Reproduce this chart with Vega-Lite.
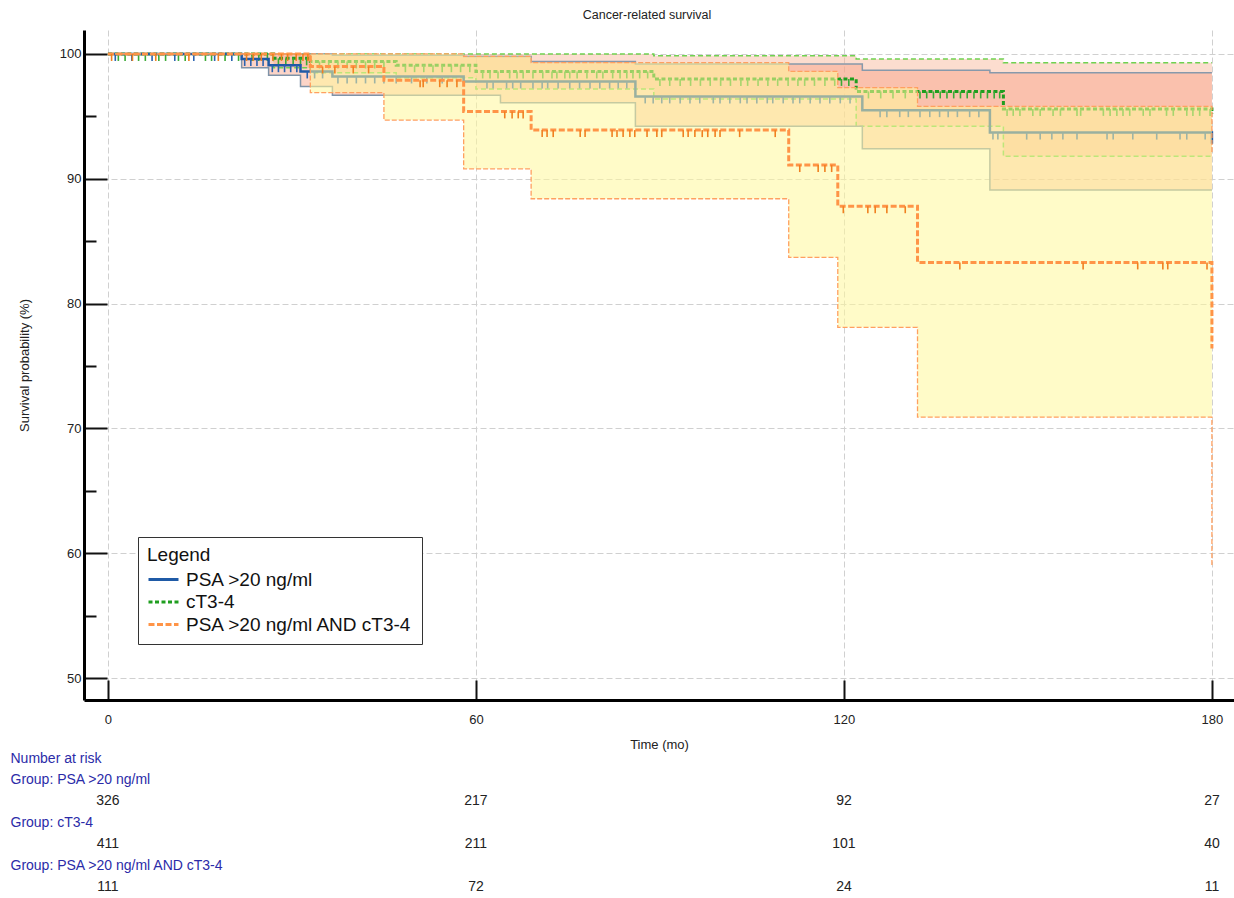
{
"$schema": "https://vega.github.io/schema/vega-lite/v6.json",
"background": "white",
"padding": {"left": 10, "top": 8, "right": 0, "bottom": 0},
"spacing": 0,
"config": {"view": {"stroke": null}, "font": "Liberation Sans"},
"datasets": {
"km": [
{"group":"PSA >20 ng/ml","t":0,"s":100,"lo":100,"hi":100},
{"group":"PSA >20 ng/ml","t":21.8,"s":99.6,"lo":98.9,"hi":100},
{"group":"PSA >20 ng/ml","t":26.2,"s":99.1,"lo":98.3,"hi":100},
{"group":"PSA >20 ng/ml","t":31.4,"s":98.6,"lo":97.4,"hi":100},
{"group":"PSA >20 ng/ml","t":36.6,"s":98.2,"lo":96.7,"hi":99.9},
{"group":"PSA >20 ng/ml","t":58,"s":97.8,"lo":96.7,"hi":99.8},
{"group":"PSA >20 ng/ml","t":64,"s":97.8,"lo":96.1,"hi":99.8},
{"group":"PSA >20 ng/ml","t":69,"s":97.8,"lo":96.1,"hi":99.4},
{"group":"PSA >20 ng/ml","t":86,"s":96.6,"lo":94.2,"hi":99.2},
{"group":"PSA >20 ng/ml","t":123,"s":95.5,"lo":92.4,"hi":98.7},
{"group":"PSA >20 ng/ml","t":143.8,"s":93.7,"lo":89.1,"hi":98.5},
{"group":"PSA >20 ng/ml","t":180,"s":92.8,"lo":89.1,"hi":98.5},
{"group":"cT3-4","t":0,"s":100,"lo":100,"hi":100},
{"group":"cT3-4","t":27,"s":99.65,"lo":98.9,"hi":100},
{"group":"cT3-4","t":33,"s":99.4,"lo":98.5,"hi":100},
{"group":"cT3-4","t":47,"s":99.1,"lo":98.1,"hi":100},
{"group":"cT3-4","t":60,"s":98.6,"lo":97.2,"hi":100},
{"group":"cT3-4","t":89,"s":98.0,"lo":96.4,"hi":99.85},
{"group":"cT3-4","t":122,"s":97.0,"lo":94.2,"hi":99.6},
{"group":"cT3-4","t":146,"s":95.6,"lo":91.8,"hi":99.3},
{"group":"cT3-4","t":180,"s":95.2,"lo":91.8,"hi":99.3},
{"group":"PSA >20 ng/ml AND cT3-4","t":0,"s":100,"lo":100,"hi":100},
{"group":"PSA >20 ng/ml AND cT3-4","t":33,"s":99.0,"lo":96.9,"hi":100},
{"group":"PSA >20 ng/ml AND cT3-4","t":45,"s":97.9,"lo":94.7,"hi":100},
{"group":"PSA >20 ng/ml AND cT3-4","t":58,"s":95.4,"lo":90.8,"hi":99.8},
{"group":"PSA >20 ng/ml AND cT3-4","t":69,"s":93.9,"lo":88.4,"hi":99.3},
{"group":"PSA >20 ng/ml AND cT3-4","t":111,"s":91.1,"lo":83.7,"hi":98.6},
{"group":"PSA >20 ng/ml AND cT3-4","t":119,"s":87.8,"lo":78.1,"hi":97.3},
{"group":"PSA >20 ng/ml AND cT3-4","t":132,"s":83.3,"lo":70.9,"hi":95.8},
{"group":"PSA >20 ng/ml AND cT3-4","t":180,"s":76.4,"lo":59.0,"hi":92.0}
],
"censor": [
{"group":"B","t":1.2,"s":100},{"group":"B","t":3.9,"s":100},{"group":"B","t":7.2,"s":100},{"group":"B","t":10.9,"s":100},{"group":"B","t":14.0,"s":100},{"group":"B","t":17.4,"s":100},{"group":"B","t":20.2,"s":100},
{"group":"B","t":22.3,"s":99.6},{"group":"B","t":23.3,"s":99.6},{"group":"B","t":24.3,"s":99.6},{"group":"B","t":25.3,"s":99.6},
{"group":"B","t":26.8,"s":99.1},{"group":"B","t":27.8,"s":99.1},{"group":"B","t":28.8,"s":99.1},{"group":"B","t":29.8,"s":99.1},{"group":"B","t":30.8,"s":99.1},
{"group":"B","t":32.5,"s":98.6},{"group":"B","t":33.7,"s":98.6},{"group":"B","t":35.0,"s":98.6},
{"group":"B","t":37.5,"s":98.2},{"group":"B","t":39,"s":98.2},{"group":"B","t":40.5,"s":98.2},{"group":"B","t":42,"s":98.2},{"group":"B","t":43.5,"s":98.2},{"group":"B","t":45,"s":98.2},{"group":"B","t":47,"s":98.2},{"group":"B","t":49.5,"s":98.2},{"group":"B","t":52,"s":98.2},{"group":"B","t":54.5,"s":98.2},
{"group":"B","t":61.8,"s":97.8},{"group":"B","t":62.8,"s":97.8},{"group":"B","t":65,"s":97.8},{"group":"B","t":66,"s":97.8},{"group":"B","t":67.3,"s":97.8},{"group":"B","t":69.3,"s":97.8},{"group":"B","t":70.8,"s":97.8},{"group":"B","t":71.7,"s":97.8},{"group":"B","t":73.4,"s":97.8},{"group":"B","t":75.3,"s":97.8},{"group":"B","t":76.9,"s":97.8},{"group":"B","t":78.6,"s":97.8},{"group":"B","t":80.2,"s":97.8},{"group":"B","t":81.8,"s":97.8},{"group":"B","t":83.2,"s":97.8},{"group":"B","t":84.6,"s":97.8},
{"group":"B","t":87.6,"s":96.6},{"group":"B","t":88.9,"s":96.6},{"group":"B","t":90.3,"s":96.6},{"group":"B","t":91.6,"s":96.6},{"group":"B","t":93.3,"s":96.6},{"group":"B","t":94.9,"s":96.6},{"group":"B","t":96.5,"s":96.6},{"group":"B","t":98.7,"s":96.6},{"group":"B","t":99.8,"s":96.6},{"group":"B","t":101.4,"s":96.6},{"group":"B","t":103.1,"s":96.6},{"group":"B","t":104.2,"s":96.6},{"group":"B","t":105.8,"s":96.6},{"group":"B","t":107.5,"s":96.6},{"group":"B","t":108.4,"s":96.6},{"group":"B","t":110.1,"s":96.6},{"group":"B","t":111.7,"s":96.6},{"group":"B","t":112.8,"s":96.6},{"group":"B","t":114.5,"s":96.6},{"group":"B","t":116.1,"s":96.6},{"group":"B","t":117.7,"s":96.6},{"group":"B","t":119.4,"s":96.6},{"group":"B","t":121,"s":96.6},
{"group":"B","t":125.9,"s":95.5},{"group":"B","t":127,"s":95.5},{"group":"B","t":129.1,"s":95.5},{"group":"B","t":130.5,"s":95.5},{"group":"B","t":132.4,"s":95.5},{"group":"B","t":134,"s":95.5},{"group":"B","t":135.6,"s":95.5},{"group":"B","t":137,"s":95.5},{"group":"B","t":138.5,"s":95.5},{"group":"B","t":140.5,"s":95.5},{"group":"B","t":142,"s":95.5},
{"group":"B","t":144.3,"s":93.7},{"group":"B","t":145.1,"s":93.7},{"group":"B","t":149.8,"s":93.7},{"group":"B","t":152,"s":93.7},{"group":"B","t":153.9,"s":93.7},{"group":"B","t":155.7,"s":93.7},{"group":"B","t":158,"s":93.7},{"group":"B","t":162.9,"s":93.7},{"group":"B","t":163.9,"s":93.7},{"group":"B","t":167.1,"s":93.7},{"group":"B","t":171,"s":93.7},{"group":"B","t":174.8,"s":93.7},{"group":"B","t":175.9,"s":93.7},{"group":"B","t":178.9,"s":93.7},
{"group":"G","t":1.7,"s":100},{"group":"G","t":2.8,"s":100},{"group":"G","t":5.0,"s":100},{"group":"G","t":6.1,"s":100},{"group":"G","t":8.3,"s":100},{"group":"G","t":9.4,"s":100},{"group":"G","t":11.5,"s":100},{"group":"G","t":12.6,"s":100},{"group":"G","t":15.9,"s":100},{"group":"G","t":16.9,"s":100},{"group":"G","t":19.1,"s":100},{"group":"G","t":21.3,"s":100},{"group":"G","t":23.5,"s":100},{"group":"G","t":24.6,"s":100},{"group":"G","t":26.0,"s":100},
{"group":"G","t":27.8,"s":99.65},{"group":"G","t":29.0,"s":99.65},{"group":"G","t":30.2,"s":99.65},{"group":"G","t":31.4,"s":99.65},{"group":"G","t":32.4,"s":99.65},
{"group":"G","t":34.5,"s":99.4},{"group":"G","t":36,"s":99.4},{"group":"G","t":37.5,"s":99.4},{"group":"G","t":39,"s":99.4},{"group":"G","t":40.5,"s":99.4},{"group":"G","t":42,"s":99.4},{"group":"G","t":43.5,"s":99.4},{"group":"G","t":45,"s":99.4},
{"group":"G","t":48.5,"s":99.1},{"group":"G","t":50,"s":99.1},{"group":"G","t":51.5,"s":99.1},{"group":"G","t":53,"s":99.1},{"group":"G","t":54.5,"s":99.1},{"group":"G","t":56,"s":99.1},{"group":"G","t":57.5,"s":99.1},{"group":"G","t":59,"s":99.1},
{"group":"G","t":61.1,"s":98.6},{"group":"G","t":62.3,"s":98.6},{"group":"G","t":63.6,"s":98.6},{"group":"G","t":65.5,"s":98.6},{"group":"G","t":66.7,"s":98.6},{"group":"G","t":67.7,"s":98.6},{"group":"G","t":69.3,"s":98.6},{"group":"G","t":70.9,"s":98.6},{"group":"G","t":72.4,"s":98.6},{"group":"G","t":73.2,"s":98.6},{"group":"G","t":74.5,"s":98.6},{"group":"G","t":75.3,"s":98.6},{"group":"G","t":76.5,"s":98.6},{"group":"G","t":78.1,"s":98.6},{"group":"G","t":79.7,"s":98.6},{"group":"G","t":80.7,"s":98.6},{"group":"G","t":82.3,"s":98.6},{"group":"G","t":83.5,"s":98.6},{"group":"G","t":84.6,"s":98.6},{"group":"G","t":85.6,"s":98.6},{"group":"G","t":86.7,"s":98.6},{"group":"G","t":88,"s":98.6},
{"group":"G","t":90,"s":98.0},{"group":"G","t":91.6,"s":98.0},{"group":"G","t":93.3,"s":98.0},{"group":"G","t":95,"s":98.0},{"group":"G","t":96.6,"s":98.0},{"group":"G","t":98.2,"s":98.0},{"group":"G","t":99.9,"s":98.0},{"group":"G","t":101.5,"s":98.0},{"group":"G","t":103.2,"s":98.0},{"group":"G","t":104.3,"s":98.0},{"group":"G","t":106,"s":98.0},{"group":"G","t":107.6,"s":98.0},{"group":"G","t":109.2,"s":98.0},{"group":"G","t":110.9,"s":98.0},{"group":"G","t":112.5,"s":98.0},{"group":"G","t":113.6,"s":98.0},{"group":"G","t":115.2,"s":98.0},{"group":"G","t":116.9,"s":98.0},{"group":"G","t":118.5,"s":98.0},{"group":"G","t":119.6,"s":98.0},{"group":"G","t":120.8,"s":98.0},
{"group":"G","t":124,"s":97.0},{"group":"G","t":126,"s":97.0},{"group":"G","t":128,"s":97.0},{"group":"G","t":130,"s":97.0},{"group":"G","t":132.4,"s":97.0},{"group":"G","t":133.5,"s":97.0},{"group":"G","t":134.6,"s":97.0},{"group":"G","t":135.7,"s":97.0},{"group":"G","t":136.8,"s":97.0},{"group":"G","t":137.9,"s":97.0},{"group":"G","t":139,"s":97.0},{"group":"G","t":140.1,"s":97.0},{"group":"G","t":141.2,"s":97.0},{"group":"G","t":142.3,"s":97.0},{"group":"G","t":143.4,"s":97.0},{"group":"G","t":144.5,"s":97.0},{"group":"G","t":145.4,"s":97.0},
{"group":"G","t":146.6,"s":95.6},{"group":"G","t":147.6,"s":95.6},{"group":"G","t":148.7,"s":95.6},{"group":"G","t":150.8,"s":95.6},{"group":"G","t":152,"s":95.6},{"group":"G","t":154.1,"s":95.6},{"group":"G","t":155.3,"s":95.6},{"group":"G","t":158,"s":95.6},{"group":"G","t":158.6,"s":95.6},{"group":"G","t":162.3,"s":95.6},{"group":"G","t":163.4,"s":95.6},{"group":"G","t":164.5,"s":95.6},{"group":"G","t":165.5,"s":95.6},{"group":"G","t":166.6,"s":95.6},{"group":"G","t":168.8,"s":95.6},{"group":"G","t":169.9,"s":95.6},{"group":"G","t":172.6,"s":95.6},{"group":"G","t":173.7,"s":95.6},{"group":"G","t":175.9,"s":95.6},{"group":"G","t":176.9,"s":95.6},{"group":"G","t":178,"s":95.6},{"group":"G","t":179.7,"s":95.6},
{"group":"O","t":0.6,"s":100},{"group":"O","t":4.0,"s":100},{"group":"O","t":7.8,"s":100},{"group":"O","t":13.2,"s":100},{"group":"O","t":18.0,"s":100},{"group":"O","t":22.6,"s":100},{"group":"O","t":23.7,"s":100},{"group":"O","t":25.0,"s":100},{"group":"O","t":26.9,"s":100},{"group":"O","t":28.3,"s":100},{"group":"O","t":29.3,"s":100},{"group":"O","t":30.7,"s":100},{"group":"O","t":31.8,"s":100},{"group":"O","t":32.6,"s":100},
{"group":"O","t":35,"s":99.0},{"group":"O","t":37,"s":99.0},{"group":"O","t":40,"s":99.0},{"group":"O","t":42.5,"s":99.0},
{"group":"O","t":50.9,"s":97.9},{"group":"O","t":51.4,"s":97.9},{"group":"O","t":54.1,"s":97.9},{"group":"O","t":55.3,"s":97.9},{"group":"O","t":56.9,"s":97.9},
{"group":"O","t":64.7,"s":95.4},{"group":"O","t":65.9,"s":95.4},{"group":"O","t":66.9,"s":95.4},{"group":"O","t":67.7,"s":95.4},
{"group":"O","t":70.8,"s":93.9},{"group":"O","t":71.6,"s":93.9},{"group":"O","t":72.6,"s":93.9},{"group":"O","t":77,"s":93.9},{"group":"O","t":77.8,"s":93.9},{"group":"O","t":82.2,"s":93.9},{"group":"O","t":83,"s":93.9},{"group":"O","t":84,"s":93.9},{"group":"O","t":85.1,"s":93.9},{"group":"O","t":85.9,"s":93.9},{"group":"O","t":87.9,"s":93.9},{"group":"O","t":89.5,"s":93.9},{"group":"O","t":90.3,"s":93.9},{"group":"O","t":93.8,"s":93.9},{"group":"O","t":94.6,"s":93.9},{"group":"O","t":95.7,"s":93.9},{"group":"O","t":96.9,"s":93.9},{"group":"O","t":97.8,"s":93.9},{"group":"O","t":99,"s":93.9},{"group":"O","t":99.8,"s":93.9},{"group":"O","t":103,"s":93.9},{"group":"O","t":108.8,"s":93.9},
{"group":"O","t":112.8,"s":91.1},{"group":"O","t":115.8,"s":91.1},{"group":"O","t":116.9,"s":91.1},{"group":"O","t":118,"s":91.1},
{"group":"O","t":119.9,"s":87.8},{"group":"O","t":123.9,"s":87.8},{"group":"O","t":125.1,"s":87.8},{"group":"O","t":127,"s":87.8},{"group":"O","t":130,"s":87.8},
{"group":"O","t":138.9,"s":83.3},{"group":"O","t":159,"s":83.3},{"group":"O","t":167.9,"s":83.3},{"group":"O","t":172,"s":83.3},{"group":"O","t":172.8,"s":83.3},{"group":"O","t":179.2,"s":83.3}
],
"risk": [
{"row":"r1","t":0,"n":"326"},{"row":"r1","t":60,"n":"217"},{"row":"r1","t":120,"n":"92"},{"row":"r1","t":180,"n":"27"},
{"row":"r2","t":0,"n":"411"},{"row":"r2","t":60,"n":"211"},{"row":"r2","t":120,"n":"101"},{"row":"r2","t":180,"n":"40"},
{"row":"r3","t":0,"n":"111"},{"row":"r3","t":60,"n":"72"},{"row":"r3","t":120,"n":"24"},{"row":"r3","t":180,"n":"11"}
]
},
"vconcat": [
{
"width": 1150, "height": 670,
"title": {"text": "Cancer-related survival", "fontSize": 12.5, "fontWeight": "normal", "color": "#222", "anchor": "middle", "frame": "group", "dx": -12, "offset": 9},
"encoding": {
  "x": {"field": "t", "type": "quantitative", "scale": {"domain": [-3.9, 183.6], "nice": false, "zero": false},
    "axis": {"values": [0, 60, 120, 180], "title": "Time (mo)", "grid": true, "gridColor": "#d0d0d0", "gridDash": [6, 3], "domainColor": "#000", "domainWidth": 3, "tickColor": "#111", "tickWidth": 2, "tickSize": -20, "labelPadding": 33, "labelFontSize": 13, "labelColor": "#222", "titleFontSize": 13, "titleFontWeight": "normal", "titleColor": "#222", "titlePadding": 12, "labelFlush": false}},
  "y": {"type": "quantitative", "scale": {"domain": [48.24, 101.92], "nice": false, "zero": false},
    "axis": {"values": [50, 55, 60, 65, 70, 75, 80, 85, 90, 95, 100], "labelExpr": "datum.value % 10 === 0 ? datum.label : ''", "title": "Survival probability (%)", "grid": true, "gridColor": "#d0d0d0", "gridDash": [6, 3], "gridOpacity": {"condition": {"test": "datum.value % 10 === 0", "value": 1}, "value": 0}, "domainColor": "#000", "domainWidth": 3, "tickColor": "#111", "tickWidth": 2, "tickSize": {"condition": {"test": "datum.value % 10 === 0", "value": -23}, "value": -12}, "labelPadding": 26, "labelFontSize": 13, "labelColor": "#222", "titleFontSize": 13, "titleFontWeight": "normal", "titleColor": "#222", "titlePadding": 28, "labelFlush": false}}
},
"layer": [
{"data": {"name": "km"}, "transform": [{"filter": "datum.group === 'cT3-4'"}],
 "mark": {"type": "area", "interpolate": "step-after", "color": "#f9b494", "opacity": 0.45},
 "encoding": {"y": {"field": "hi"}, "y2": {"field": "lo"}}},
{"data": {"name": "km"}, "transform": [{"filter": "datum.group === 'PSA >20 ng/ml'"}],
 "mark": {"type": "area", "interpolate": "step-after", "color": "#f9a082", "opacity": 0.45},
 "encoding": {"y": {"field": "hi"}, "y2": {"field": "lo"}}},
{"data": {"name": "km"}, "transform": [{"filter": "datum.group === 'cT3-4'"}],
 "mark": {"type": "line", "interpolate": "step-after", "color": "#6fd150", "strokeWidth": 1.5, "strokeDash": [5, 3]},
 "encoding": {"y": {"field": "hi"}}},
{"data": {"name": "km"}, "transform": [{"filter": "datum.group === 'cT3-4'"}],
 "mark": {"type": "line", "interpolate": "step-after", "color": "#6fd150", "strokeWidth": 1.5, "strokeDash": [5, 3]},
 "encoding": {"y": {"field": "lo"}}},
{"data": {"name": "km"}, "transform": [{"filter": "datum.group === 'PSA >20 ng/ml'"}],
 "mark": {"type": "line", "interpolate": "step-after", "color": "#8799ab", "strokeWidth": 1.5},
 "encoding": {"y": {"field": "hi"}}},
{"data": {"name": "km"}, "transform": [{"filter": "datum.group === 'PSA >20 ng/ml'"}],
 "mark": {"type": "line", "interpolate": "step-after", "color": "#7f93a8", "strokeWidth": 1.5},
 "encoding": {"y": {"field": "lo"}}},
{"data": {"name": "km"}, "transform": [{"filter": "datum.group === 'cT3-4'"}],
 "mark": {"type": "line", "interpolate": "step-after", "strokeWidth": 3},
 "encoding": {
  "y": {"field": "s"},
  "color": {"field": "group", "type": "nominal", "title": "Legend", "scale": {"domain": ["PSA >20 ng/ml", "cT3-4", "PSA >20 ng/ml AND cT3-4"], "range": ["#1f5aa6", "#1f9e1f", "#ff9447"]},
    "legend": {"orient": "none", "legendX": 54, "legendY": 507, "direction": "vertical", "symbolType": "stroke", "symbolSize": 900, "symbolStrokeWidth": 3, "strokeColor": "#333", "padding": 9, "fillColor": "white", "titleFontSize": 19, "titleFontWeight": "normal", "titleColor": "#111", "labelFontSize": 19, "labelColor": "#111", "clipHeight": 21, "rowPadding": 1.5, "titlePadding": 4, "labelOffset": 6, "labelLimit": 0}},
  "strokeDash": {"field": "group", "type": "nominal", "title": "Legend", "scale": {"domain": ["PSA >20 ng/ml", "cT3-4", "PSA >20 ng/ml AND cT3-4"], "range": [[1, 0], [4, 2.5], [6, 2.5]]},
    "legend": {"orient": "none", "legendX": 54, "legendY": 507, "direction": "vertical", "symbolType": "stroke", "symbolSize": 900, "symbolStrokeWidth": 3, "strokeColor": "#333", "padding": 9, "fillColor": "white", "titleFontSize": 19, "titleFontWeight": "normal", "titleColor": "#111", "labelFontSize": 19, "labelColor": "#111", "clipHeight": 21, "rowPadding": 1.5, "titlePadding": 4, "labelOffset": 6, "labelLimit": 0}}
 }},
{"data": {"name": "censor"}, "transform": [{"filter": "datum.group === 'G'"}],
 "mark": {"type": "point", "shape": "M0,0L0,2", "size": 49, "filled": false, "stroke": "#3aaa35", "strokeWidth": 1.6, "opacity": 1},
 "encoding": {"y": {"field": "s"}}},
{"data": {"name": "km"}, "transform": [{"filter": "datum.group === 'PSA >20 ng/ml'"}],
 "mark": {"type": "line", "interpolate": "step-after", "strokeWidth": 2.5},
 "encoding": {
  "y": {"field": "s"},
  "color": {"field": "group", "type": "nominal", "title": "Legend", "scale": {"domain": ["PSA >20 ng/ml", "cT3-4", "PSA >20 ng/ml AND cT3-4"], "range": ["#1f5aa6", "#1f9e1f", "#ff9447"]}},
  "strokeDash": {"field": "group", "type": "nominal", "title": "Legend", "scale": {"domain": ["PSA >20 ng/ml", "cT3-4", "PSA >20 ng/ml AND cT3-4"], "range": [[1, 0], [4, 2.5], [6, 2.5]]}}
 }},
{"data": {"name": "censor"}, "transform": [{"filter": "datum.group === 'B'"}],
 "mark": {"type": "point", "shape": "M0,0L0,2", "size": 49, "filled": false, "stroke": "#2a62b0", "strokeWidth": 1.6, "opacity": 1},
 "encoding": {"y": {"field": "s"}}},
{"data": {"name": "km"}, "transform": [{"filter": "datum.group === 'PSA >20 ng/ml AND cT3-4'"}],
 "mark": {"type": "area", "interpolate": "step-after", "color": "#fff89b", "opacity": 0.55},
 "encoding": {"y": {"field": "hi"}, "y2": {"field": "lo"}}},
{"data": {"name": "km"}, "transform": [{"filter": "datum.group === 'PSA >20 ng/ml AND cT3-4'"}],
 "mark": {"type": "line", "interpolate": "step-after", "color": "#ffa060", "strokeWidth": 1.3, "strokeDash": [5, 2]},
 "encoding": {"y": {"field": "hi"}}},
{"data": {"name": "km"}, "transform": [{"filter": "datum.group === 'PSA >20 ng/ml AND cT3-4'"}],
 "mark": {"type": "line", "interpolate": "step-after", "color": "#ffa060", "strokeWidth": 1.3, "strokeDash": [5, 2]},
 "encoding": {"y": {"field": "lo"}}},
{"data": {"name": "km"}, "transform": [{"filter": "datum.group === 'PSA >20 ng/ml AND cT3-4'"}],
 "mark": {"type": "line", "interpolate": "step-after", "strokeWidth": 3},
 "encoding": {
  "y": {"field": "s"},
  "color": {"field": "group", "type": "nominal", "title": "Legend", "scale": {"domain": ["PSA >20 ng/ml", "cT3-4", "PSA >20 ng/ml AND cT3-4"], "range": ["#1f5aa6", "#1f9e1f", "#ff9447"]}},
  "strokeDash": {"field": "group", "type": "nominal", "title": "Legend", "scale": {"domain": ["PSA >20 ng/ml", "cT3-4", "PSA >20 ng/ml AND cT3-4"], "range": [[1, 0], [4, 2.5], [6, 2.5]]}}
 }},
{"data": {"name": "censor"}, "transform": [{"filter": "datum.group === 'O'"}],
 "mark": {"type": "point", "shape": "M0,0L0,2", "size": 49, "filled": false, "stroke": "#f08020", "strokeWidth": 1.6, "opacity": 1},
 "encoding": {"y": {"field": "s"}}}
]
},
{
"width": 1150, "height": 141,
"data": {"name": "risk"},
"mark": {"type": "text", "fontSize": 14, "color": "#222", "align": "center", "baseline": "middle"},
"encoding": {
 "x": {"field": "t", "type": "quantitative", "scale": {"domain": [-3.9, 183.6], "nice": false, "zero": false}, "axis": null},
 "y": {"field": "row", "type": "nominal", "scale": {"type": "point", "domain": ["Number at risk", "Group: PSA >20 ng/ml", "r1", "Group: cT3-4", "r2", "Group: PSA >20 ng/ml AND cT3-4", "r3"], "padding": 0.28},
   "axis": {"title": null, "domain": false, "ticks": false, "grid": false, "labelAlign": "left", "labelPadding": 74, "labelColor": "#2b2ba8", "labelFontSize": 14, "labelLimit": 0, "labelExpr": "indexof(['r1','r2','r3'], datum.value) >= 0 ? '' : datum.value"}},
 "text": {"field": "n", "type": "nominal"}
}
}
]
}
